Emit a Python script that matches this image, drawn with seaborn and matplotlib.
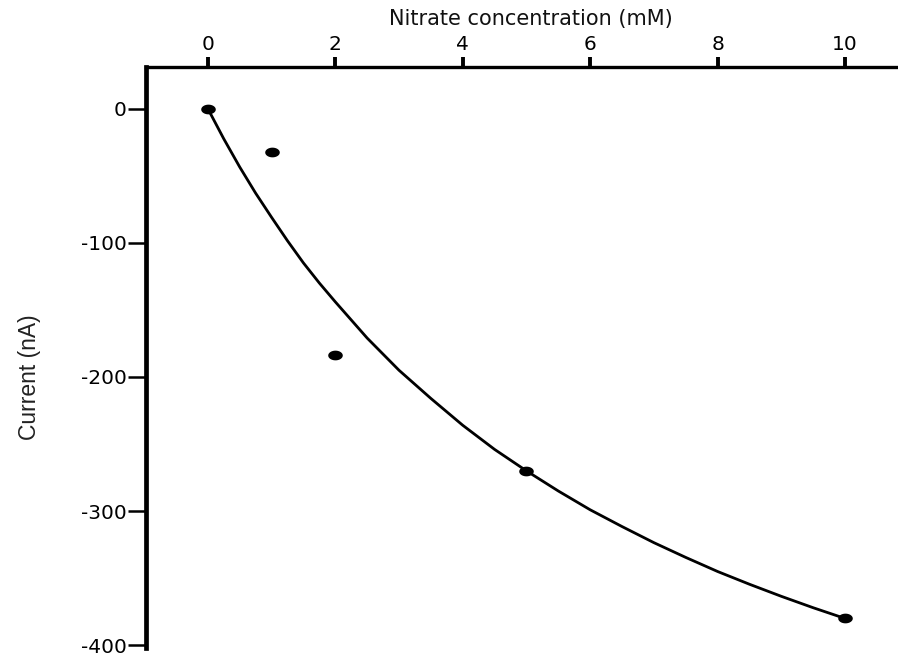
import matplotlib
matplotlib.use("Agg")
import matplotlib.pyplot as plt
from matplotlib.path import Path
import seaborn as sns
import pandas as pd
import numpy as np

# measured points
conc = [0, 1, 2, 5, 10]
current = [0, -32, -184, -270, -380]

# fitted curve
curve_x = [0, 0.25, 0.5, 0.75, 1, 1.25, 1.5, 1.75, 2, 2.5, 3, 3.5, 4, 4.5, 5,
           5.5, 6, 6.5, 7, 7.5, 8, 8.5, 9, 9.5, 10]
curve_y = [0, -22.5, -43.5, -63, -81, -98.5, -115, -130, -144, -171, -195, -216, -236, -254, -270,
           -285, -299, -311.5, -323.5, -334.5, -345, -354.5, -363.5, -372, -380]

xticks = [0, 2, 4, 6, 8, 10]
yticks = [0, -100, -200, -300, -400]

sns.set_style("ticks")
plt.rcParams['font.family'] = ['DejaVu Sans']

fig = plt.figure(figsize=(8.98, 6.54), dpi=100)
ax_h = (648 - 67) / 654
ax_w = 1 - 146 / 898
ax = fig.add_axes([146/898, 1 - 648/654, ax_w, ax_h])

pts = pd.DataFrame({"x": conc, "y": current})
crv = pd.DataFrame({"x": curve_x, "y": curve_y})

# horizontally stretched dot marker
t = np.linspace(0, 2*np.pi, 60)
verts = np.column_stack([1.5*np.cos(t), np.sin(t)])
ellipse = Path(verts, closed=True)

sns.lineplot(data=crv, x="x", y="y", ax=ax, color="black", linewidth=2.0, sort=True)
sns.scatterplot(data=pts, x="x", y="y", ax=ax, color="black", s=110, marker=ellipse,
                edgecolor="black", linewidth=0, zorder=5)

ax.set_xlim(-0.97, 10.83)
ax.set_ylim(-402, 31)

ax.xaxis.tick_top()
ax.xaxis.set_label_position("top")
ax.set_xticks(xticks)
ax.set_xticklabels([str(v) for v in xticks])
ax.set_yticks(yticks)
ax.set_yticklabels([str(v) for v in yticks])

for s in ["right", "bottom"]:
    ax.spines[s].set_visible(False)
ax.spines["top"].set_linewidth(2.4)
ax.spines["left"].set_linewidth(3.4)
for s in ["top", "left"]:
    ax.spines[s].set_color("black")

ax.tick_params(axis="x", direction="out", length=7, width=2.8, labelsize=14.5, pad=2,
               color="black", labelcolor="black")
ax.tick_params(axis="y", direction="out", length=13, width=1.8, labelsize=14.5, pad=1,
               color="black", labelcolor="black")

ax.set_xlabel("Nitrate concentration (mM)", fontsize=15, color="#111111")
ax.xaxis.set_label_coords((531 - 146) / (898 - 146), (648 - 19) / (648 - 67))
ax.xaxis.label.set_verticalalignment("center")
ax.set_ylabel("Current (nA)", fontsize=16.5, family=['Liberation Sans', 'DejaVu Sans'],
              color="#222222")
ax.yaxis.set_label_coords(-(146 - 41) / (898 - 146), (648 - 377) / (648 - 67))

fig.savefig("out.png", dpi=100)
